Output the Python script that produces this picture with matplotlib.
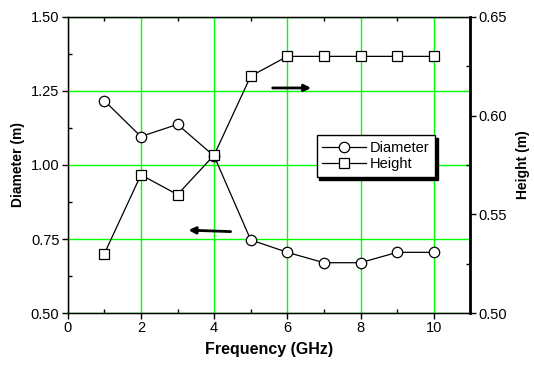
import matplotlib
matplotlib.use("Agg")
import matplotlib.pyplot as plt
from matplotlib.ticker import MultipleLocator, FormatStrFormatter

plt.rcParams['font.family'] = ['Liberation Sans', 'DejaVu Sans']

freq = [1, 2, 3, 4, 5, 6, 7, 8, 9, 10]
diameter = [1.217, 1.096, 1.137, 1.03, 0.747, 0.705, 0.67, 0.67, 0.705, 0.705]
height = [0.53, 0.57, 0.56, 0.58, 0.62, 0.63, 0.63, 0.63, 0.63, 0.63]

fig = plt.figure(figsize=(5.34, 3.67), dpi=100)
ax = fig.add_axes([0.1268, 0.147, 0.754, 0.807])
ax2 = ax.twinx()

ax.set_xlim(0, 11)
ax.set_ylim(0.5, 1.5)
ax2.set_ylim(0.5, 0.65)

ax.xaxis.set_major_locator(MultipleLocator(2))
ax.xaxis.set_minor_locator(MultipleLocator(1))
ax.yaxis.set_major_locator(MultipleLocator(0.25))
ax.yaxis.set_minor_locator(MultipleLocator(0.125))
ax2.yaxis.set_major_locator(MultipleLocator(0.05))
ax2.yaxis.set_minor_locator(MultipleLocator(0.025))

ax.grid(True, which='major', color='#00ff00', linewidth=1.0)
ax.set_axisbelow(True)

ax.tick_params(axis='both', which='major', direction='out', length=4, width=1, labelsize=10.5, top=False, pad=2)
ax.tick_params(axis='both', which='minor', direction='in', length=3, width=1, top=True)
ax2.tick_params(axis='y', which='major', direction='out', length=4, width=1, labelsize=10.5, pad=2)
ax2.tick_params(axis='y', which='minor', direction='in', length=3, width=1)

ax.yaxis.set_major_formatter(FormatStrFormatter('%.2f'))
ax2.yaxis.set_major_formatter(FormatStrFormatter('%.2f'))

for s in ['left', 'bottom', 'top']:
    ax.spines[s].set_linewidth(1.0)
ax2.spines['right'].set_linewidth(2.0)

l1, = ax.plot(freq, diameter, '-o', color='black', linewidth=0.9,
              markersize=7.5, markerfacecolor='white', markeredgecolor='black',
              markeredgewidth=0.9, label='Diameter', zorder=3)
l2, = ax2.plot(freq, height, '-s', color='black', linewidth=0.9,
               markersize=7.5, markerfacecolor='white', markeredgecolor='black',
               markeredgewidth=0.9, label='Height', zorder=3)

ax.set_xlabel('Frequency (GHz)', fontsize=11.5, fontweight='bold', labelpad=5)
ax.set_ylabel('Diameter (m)', fontsize=10, fontweight='bold', labelpad=4)
ax2.set_ylabel('Height (m)', fontsize=10, fontweight='bold', labelpad=6)

ax.annotate('', xy=(6.65, 1.26), xytext=(5.6, 1.26),
            arrowprops=dict(arrowstyle='-|>', color='black', lw=2.0,
                            mutation_scale=10, shrinkA=0, shrinkB=0))
ax.annotate('', xy=(3.3, 0.78), xytext=(4.45, 0.775),
            arrowprops=dict(arrowstyle='-|>', color='black', lw=2.0,
                            mutation_scale=10, shrinkA=0, shrinkB=0))

leg = ax2.legend([l1, l2], ['Diameter', 'Height'], loc='upper left',
                 bbox_to_anchor=(0.618, 0.60), fontsize=10.5, frameon=True,
                 fancybox=False, shadow={'color': 'black', 'alpha': 1.0},
                 edgecolor='black', handlelength=3.0, borderpad=0.4,
                 labelspacing=0.15, handletextpad=0.25, borderaxespad=0)
leg.get_frame().set_linewidth(1.0)

fig.savefig('out.png', dpi=100)
